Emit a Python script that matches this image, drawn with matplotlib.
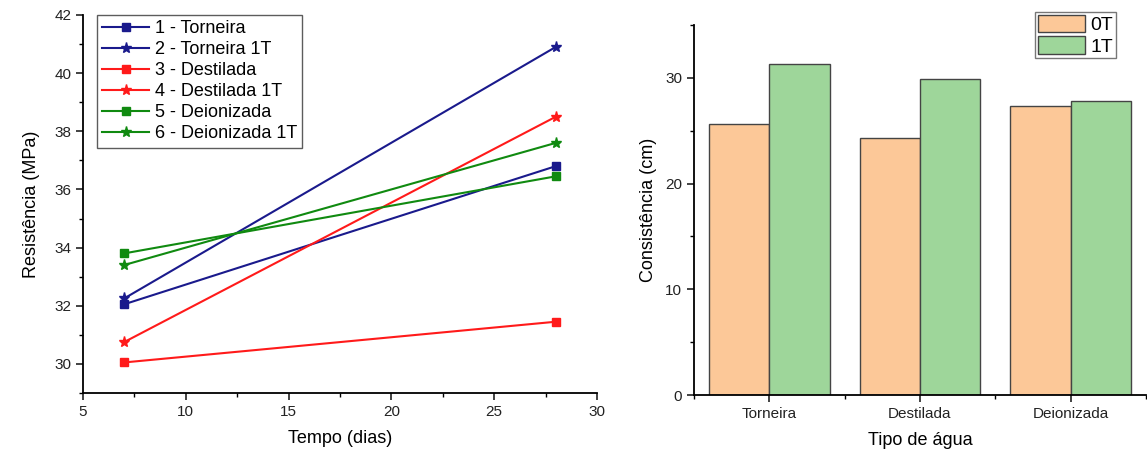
import matplotlib
matplotlib.use("Agg")
import matplotlib.pyplot as plt
from matplotlib.ticker import MultipleLocator
import numpy as np

plt.rcParams['font.family'] = ['Liberation Sans', 'DejaVu Sans']

# Left chart data
days = [7, 28]
series_labels = ["1 - Torneira", "2 - Torneira 1T", "3 - Destilada",
                 "4 - Destilada 1T", "5 - Deionizada", "6 - Deionizada 1T"]
torneira = [32.05, 36.8]
torneira_1t = [32.25, 40.9]
destilada = [30.05, 31.45]
destilada_1t = [30.75, 38.5]
deionizada = [33.8, 36.45]
deionizada_1t = [33.4, 37.6]

# Right chart data
water_types = ["Torneira", "Destilada", "Deionizada"]
cons_0t = [25.6, 24.3, 27.3]
cons_1t = [31.3, 29.85, 27.85]

fig = plt.figure(figsize=(11.47, 4.53), dpi=100)

ax1 = fig.add_axes([0.0724, 0.1325, 0.448, 0.8345])
navy = "#1a1a8c"
red = "#ff1a1a"
green = "#108a10"
series = [torneira, torneira_1t, destilada, destilada_1t, deionizada, deionizada_1t]
colors = [navy, navy, red, red, green, green]
markers = ["s", "*", "s", "*", "s", "*"]
msizes = [6, 8, 6, 8, 6, 8]
for vals, lab, c, m, ms in zip(series, series_labels, colors, markers, msizes):
    ax1.plot(days, vals, color=c, marker=m, markersize=ms, lw=1.5, label=lab)

ax1.set_xlim(5, 30)
ax1.set_ylim(29, 42)
ax1.xaxis.set_major_locator(MultipleLocator(5))
ax1.xaxis.set_minor_locator(MultipleLocator(2.5))
ax1.yaxis.set_minor_locator(MultipleLocator(1))
ax1.set_yticks([30, 32, 34, 36, 38, 40, 42])
for s in ["top", "right"]:
    ax1.spines[s].set_visible(False)
for s in ["left", "bottom"]:
    ax1.spines[s].set_linewidth(1.3)
ax1.tick_params(which="major", direction="out", length=5, width=1.2, labelsize=11, colors="#222222")
ax1.tick_params(which="minor", direction="out", length=3, width=1.0)
ax1.set_xlabel("Tempo (dias)", fontsize=13, labelpad=8)
ax1.set_ylabel("Resistência (MPa)", fontsize=13, labelpad=10)
leg1 = ax1.legend(loc="upper left", bbox_to_anchor=(0.027, 1.0), fontsize=13,
                  frameon=True, fancybox=False, edgecolor="#333333",
                  handlelength=2.6, labelspacing=0.22, borderpad=0.3,
                  handletextpad=0.3, borderaxespad=0.0)
leg1.get_frame().set_linewidth(1.0)

ax2 = fig.add_axes([0.605, 0.128, 0.394, 0.817])
x = np.arange(len(water_types))
w = 0.4
ax2.bar(x - w / 2, cons_0t, width=w, color="#fcc898", edgecolor="#444444", lw=1.0, label="0T")
ax2.bar(x + w / 2, cons_1t, width=w, color="#9ed69a", edgecolor="#444444", lw=1.0, label="1T")
ax2.set_xlim(-0.5, 2.5)
ax2.set_ylim(0, 35)
ax2.set_xticks(x)
ax2.set_xticklabels(water_types)
ax2.xaxis.set_minor_locator(MultipleLocator(0.5))
ax2.yaxis.set_major_locator(MultipleLocator(10))
ax2.yaxis.set_minor_locator(MultipleLocator(5))
for s in ["top", "right"]:
    ax2.spines[s].set_visible(False)
for s in ["left", "bottom"]:
    ax2.spines[s].set_linewidth(1.3)
ax2.tick_params(which="major", direction="out", length=5, width=1.2, labelsize=11, colors="#222222")
ax2.tick_params(which="minor", direction="out", length=3, width=1.0)
ax2.set_xlabel("Tipo de água", fontsize=13, labelpad=8)
ax2.set_ylabel("Consistência (cm)", fontsize=13, labelpad=6)
leg2 = ax2.legend(loc="upper left", bbox_to_anchor=(0.755, 1.035), fontsize=14,
                  frameon=True, fancybox=False, edgecolor="#555555",
                  handlelength=2.4, handleheight=1.0, labelspacing=0.1,
                  borderpad=0.15, handletextpad=0.3, borderaxespad=0.0)
leg2.get_frame().set_linewidth(1.0)

fig.savefig("out.png", dpi=100)
